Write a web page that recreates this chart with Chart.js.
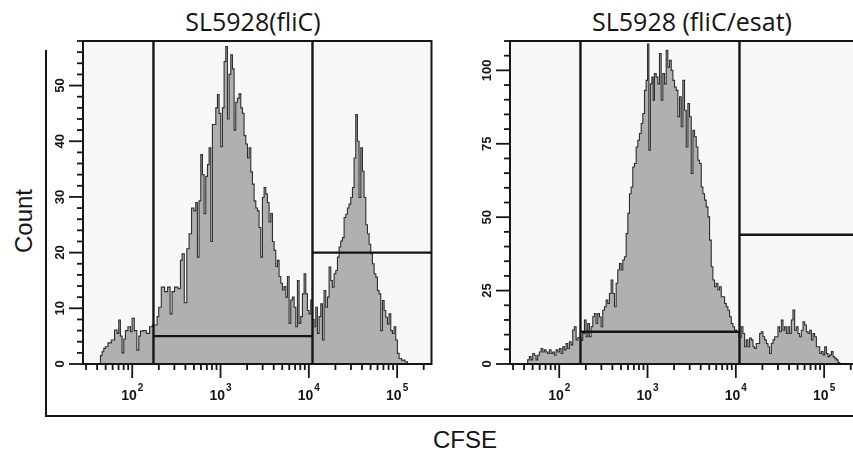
<!DOCTYPE html>
<html>
<head>
<meta charset="utf-8">
<script src="https://cdn.jsdelivr.net/npm/chart.js@4.4.0/dist/chart.umd.min.js"></script>
<style>
  html, body { margin: 0; padding: 0; background: #fff; overflow: hidden; }
  #pagina { position: relative; width: 853px; height: 452px; overflow: hidden; }
  .titulo { position: absolute; top: 9px; font: 25px "Open Sans", sans-serif; line-height: 25px; color: #151515; white-space: nowrap; transform: translateX(-50%); }
  .rotulo { position: absolute; font: 24px "Liberation Sans", Arial, sans-serif; line-height: 24px; color: #151515; white-space: nowrap; }
  #count { left: 24px; top: 221px; transform: translate(-50%, -50%) rotate(-90deg); }
  #cfse { left: 465px; top: 428px; transform: translateX(-50%); }
  .traco { position: absolute; background: #151515; }
  canvas { position: absolute; top: 30px; }
</style>
</head>
<body>
<div id="pagina">
  <div class="traco" style="left:45px; top:50px; width:2px; height:367px;"></div>
  <div class="traco" style="left:45px; top:415px; width:808px; height:2px;"></div>
  <div class="titulo" id="titulo-esq" style="left:253px;"></div>
  <div class="titulo" id="titulo-dir" style="left:692px;"></div>
  <div class="rotulo" id="count">Count</div>
  <div class="rotulo" id="cfse">CFSE</div>
  <canvas id="g-esq" width="400" height="380" style="left:40px;"></canvas>
  <canvas id="g-dir" width="400" height="380" style="left:467px;"></canvas>
</div>
<script>
var TITULOS = ["SL5928(fliC)", "SL5928 (fliC/esat)"];

// log10(CFSE) of each histogram bin, and the count in that bin
var ESQ_LOG = [
  1.631,1.649,1.668,1.687,1.706,1.744,1.781,1.819,1.838,1.857,
  1.875,1.895,1.914,1.932,1.971,1.989,2.008,2.039,2.065,2.084,
  2.102,2.140,2.178,2.215,2.240,2.272,2.291,2.310,2.348,2.385,
  2.416,2.442,2.461,2.498,2.537,2.555,2.574,2.605,2.631,2.657,
  2.687,2.710,2.729,2.747,2.767,2.786,2.804,2.823,2.843,2.861,
  2.880,2.899,2.917,2.937,2.956,2.974,2.993,3.012,3.031,3.050,
  3.069,3.087,3.106,3.126,3.144,3.163,3.182,3.200,3.220,3.239,
  3.257,3.276,3.296,3.314,3.333,3.352,3.370,3.390,3.409,3.427,
  3.446,3.465,3.484,3.503,3.522,3.540,3.559,3.579,3.597,3.616,
  3.635,3.653,3.673,3.692,3.710,3.729,3.749,3.767,3.786,3.805,
  3.823,3.843,3.862,3.880,3.899,3.918,3.937,3.956,3.975,3.993,
  4.012,4.032,4.050,4.069,4.088,4.106,4.126,4.145,4.163,4.182,
  4.202,4.220,4.239,4.258,4.276,4.296,4.315,4.333,4.352,4.371,
  4.390,4.409,4.428,4.446,4.465,4.485,4.503,4.522,4.541,4.559,
  4.579,4.598,4.616,4.635,4.655,4.673,4.692,4.711,4.729,4.749,
  4.768,4.786,4.805,4.824,4.843,4.862,4.881,4.899,4.918,4.938,
  4.956,4.975,4.994,5.012,5.032,5.069,5.108,5.126
];
var ESQ_CONTAGEM = [
  0,1.5,2.2,2.8,3.1,3.8,4.3,6.1,5.5,7.9,
  5,2,4.5,6,6.7,5.8,8.2,6,2.5,5,
  5.9,6,5.5,6.7,7,7,8.5,10.2,13.8,13,
  13.8,9,13,13.8,13.5,18.6,19.8,11,20.7,23.4,
  28,27.5,29,19.2,29.3,37.6,34,27,33.7,35.8,
  38.8,22,43,43,46,48.4,45,39,46,54.3,
  57,44,52,55.5,53,42,47,47.7,48.5,46,
  45,41,39.5,37,38.8,34.5,32.3,29.3,28,27.5,
  24.5,19.2,29.9,31.7,30.5,29,25.5,27,22,20.4,
  17.5,18.6,15.7,14.5,13.3,13.9,12,15.7,7.3,11.5,
  12,10.2,6.7,15,7.3,8.5,12.6,16.2,12.6,9.6,
  9,11.5,8,6.7,10.2,5.5,8.5,10.8,4.3,13.2,
  10.2,12,17.4,15,13.8,16.2,16.8,19.2,21,22.1,
  22.7,26.3,26.9,28,28.7,29.9,31.7,37,44.8,40,
  29.9,38.8,34.6,29.9,25,23.4,21.5,19.8,18,16.2,
  15.6,13.2,12.6,6,11.4,9.6,8.4,7.2,9,6,
  5.5,6.7,4.3,1.9,1,0.7,0.4,0
];
var DIR_LOG = [
  1.633,1.652,1.671,1.690,1.709,1.728,1.747,1.765,1.785,1.804,
  1.822,1.841,1.861,1.879,1.898,1.917,1.935,1.955,1.974,1.992,
  2.011,2.031,2.049,2.068,2.087,2.105,2.125,2.144,2.162,2.181,
  2.201,2.219,2.238,2.257,2.276,2.295,2.314,2.332,2.351,2.371,
  2.389,2.408,2.427,2.446,2.465,2.484,2.502,2.522,2.541,2.559,
  2.578,2.598,2.616,2.635,2.654,2.672,2.692,2.711,2.729,2.748,
  2.768,2.786,2.805,2.824,2.842,2.862,2.881,2.899,2.918,2.938,
  2.956,2.975,2.994,3.006,3.024,3.040,3.058,3.069,3.088,3.108,
  3.126,3.145,3.164,3.183,3.202,3.221,3.239,3.259,3.278,3.296,
  3.315,3.334,3.353,3.372,3.391,3.409,3.429,3.448,3.466,3.485,
  3.505,3.523,3.542,3.561,3.579,3.599,3.618,3.636,3.655,3.675,
  3.693,3.712,3.731,3.749,3.769,3.788,3.806,3.825,3.845,3.863,
  3.882,3.901,3.919,3.939,3.958,3.976,3.995,4.018,4.050,4.071,
  4.090,4.109,4.128,4.146,4.166,4.185,4.203,4.222,4.241,4.260,
  4.279,4.298,4.316,4.336,4.355,4.373,4.392,4.412,4.430,4.449,
  4.468,4.486,4.506,4.525,4.543,4.562,4.582,4.600,4.619,4.638,
  4.656,4.676,4.695,4.713,4.732,4.752,4.770,4.789,4.808,4.827,
  4.846,4.865,4.883,4.902,4.922,4.940,4.959,4.978,4.997,5.016,
  5.035,5.053,5.073,5.092,5.110,5.129,5.149,5.167,5.186
];
var DIR_CONTAGEM = [
  0,1.4,2.5,1.4,3.6,3,1.4,3,4.1,5.3,
  4.1,4.8,4.1,3.6,4.8,3.6,4.1,3,4.8,4.1,
  5.3,3.6,5.9,4.8,7,5.3,7.6,6.5,11.6,12.7,
  8.2,9,9,8,10.4,15,9.3,13.8,9.3,12.7,
  16.1,17.2,13.8,17.2,16,12.7,18.3,19.5,21.8,20.6,
  24,28.6,24,19.5,27.5,32,34.2,32,35.4,36.5,
  44.4,51.3,58,60.3,67.1,68.3,73.9,76.2,78.5,81.9,
  85.3,93.2,96.6,109,72.8,95.4,97.7,89.8,98.9,97.7,
  95.4,105.7,89.8,98.9,95.4,106.8,101.1,103.4,100,96.6,
  94.3,93.2,84.2,91,80.8,96.6,86.4,73.9,88.7,84.2,
  64.9,79.6,77.4,73.9,69.4,68.3,60.3,58,55.8,53.5,
  50.1,42.2,33.1,28.6,26.3,27.5,25.2,26.3,22.9,22.9,
  20.6,19.5,18.3,16.1,13.8,12.7,11.6,11,9,12.7,
  10.4,5.9,8.2,5.9,8.8,8.2,5.9,5.3,7,7,
  10.4,11,9.3,8.2,7,5.9,3.6,7,8.2,9.3,
  9.3,12.7,11,15,11.5,12.7,10.4,12.7,10.4,15,
  18.4,11.5,12.7,10.4,9.3,11.5,14.4,13.3,11,10.4,
  11.5,8.2,10.4,9.3,5.9,5.9,3.6,4.2,3.1,5.9,
  3.6,2.5,3.1,4.2,2.5,1.9,1.4,0.5,0
];

// gates: two vertical cuts, then the level of the lower/upper horizontal marks
var GATE_X = [174, 11000];
var ESQ_BARRAS = [5, 20];
var DIR_BARRAS = [11, 44];

var X_MIN = 27.7;
var X_MAX = 245000;
var X_DECADAS = [2, 3, 4, 5];
var X_MULTIPLOS = [1, 2, 3, 4, 5, 6, 7, 8, 9];

var ESQ_Y = { max: 58, passo: 2, rotulos: [0, 10, 20, 30, 40, 50] };
var DIR_Y = { max: 110, passo: 5, rotulos: [0, 25, 50, 75, 100] };

(function () {
  document.getElementById("titulo-esq").textContent = TITULOS[0];
  document.getElementById("titulo-dir").textContent = TITULOS[1];

  var ticksX = [];
  [1, 2, 3, 4, 5].forEach(function (d) {
    X_MULTIPLOS.forEach(function (m) {
      var v = m * Math.pow(10, d);
      if (v >= X_MIN && v <= X_MAX) { ticksX.push(v); }
    });
  });

  var TINTA = "#151515";

  var eixosPlugin = {
    id: "eixos",
    beforeDraw: function (chart) {
      var a = chart.chartArea, ctx = chart.ctx;
      ctx.save();
      ctx.fillStyle = "#f8f8f8";
      ctx.fillRect(a.left, a.top, a.right - a.left, a.bottom - a.top);
      ctx.restore();
    },
    afterDraw: function (chart, args, opts) {
      var a = chart.chartArea, ctx = chart.ctx;
      var xs = chart.scales.x, ys = chart.scales.y;
      ctx.save();
      ctx.strokeStyle = TINTA;
      ctx.fillStyle = TINTA;
      ctx.lineWidth = 2;
      ctx.strokeRect(a.left, a.top, a.right - a.left, a.bottom - a.top);

      // y ticks + rotated labels
      ctx.lineWidth = 1.8;
      ctx.font = "bold 13px 'Liberation Sans', Arial, sans-serif";
      ys.ticks.forEach(function (t) {
        var y = ys.getPixelForValue(t.value);
        var major = opts.rotulos.indexOf(t.value) >= 0;
        var len = major ? 14 : 6;
        ctx.beginPath();
        ctx.moveTo(a.left - len, y);
        ctx.lineTo(a.left, y);
        ctx.stroke();
        if (major) {
          ctx.save();
          ctx.translate(a.left - 23, y);
          ctx.rotate(-Math.PI / 2);
          ctx.textAlign = "center";
          ctx.textBaseline = "middle";
          ctx.fillText(String(t.value), 0, 0);
          ctx.restore();
        }
      });

      // x ticks (log) + 10^n labels
      xs.ticks.forEach(function (t) {
        var x = xs.getPixelForValue(t.value);
        var e = Math.log10(t.value);
        var major = Math.abs(e - Math.round(e)) < 1e-9;
        var len = major ? 14 : 6;
        ctx.beginPath();
        ctx.moveTo(x, a.bottom);
        ctx.lineTo(x, a.bottom + len);
        ctx.stroke();
        if (major && X_DECADAS.indexOf(Math.round(e)) >= 0) {
          var base = "10", exp = String(Math.round(e));
          ctx.font = "bold 14px 'Liberation Sans', Arial, sans-serif";
          var wb = ctx.measureText(base).width;
          ctx.font = "bold 10px 'Liberation Sans', Arial, sans-serif";
          var we = ctx.measureText(exp).width;
          var x0 = x - (wb + we + 1) / 2;
          ctx.textAlign = "left";
          ctx.textBaseline = "alphabetic";
          ctx.font = "bold 14px 'Liberation Sans', Arial, sans-serif";
          ctx.fillText(base, x0, a.bottom + 36);
          ctx.font = "bold 10px 'Liberation Sans', Arial, sans-serif";
          ctx.fillText(exp, x0 + wb + 1, a.bottom + 27);
        }
      });
      ctx.restore();
    }
  };

  function criarHistograma(canvas, logs, contagem, eixoY, barras) {
    var pontos = logs.map(function (e, i) { return { x: Math.pow(10, e), y: contagem[i] }; });
    var segmentos = [
      [{ x: GATE_X[0], y: 0 }, { x: GATE_X[0], y: eixoY.max }],
      [{ x: GATE_X[1], y: 0 }, { x: GATE_X[1], y: eixoY.max }],
      [{ x: GATE_X[0], y: barras[0] }, { x: GATE_X[1], y: barras[0] }],
      [{ x: GATE_X[1], y: barras[1] }, { x: X_MAX, y: barras[1] }]
    ];
    var datasets = [{
      data: pontos,
      stepped: "middle",
      fill: "origin",
      backgroundColor: "#b0b0b0",
      borderColor: "#2e2e2e",
      borderWidth: 1.1,
      pointRadius: 0,
      order: 2
    }];
    segmentos.forEach(function (s) {
      datasets.push({
        data: s,
        borderColor: TINTA,
        borderWidth: 2.4,
        pointRadius: 0,
        fill: false,
        order: 1
      });
    });

    return new Chart(canvas, {
      type: "line",
      data: { datasets: datasets },
      plugins: [eixosPlugin],
      options: {
        responsive: false,
        animation: false,
        devicePixelRatio: 1,
        events: [],
        layout: { padding: { top: 11, right: 8.5, left: 0, bottom: 0 } },
        plugins: {
          legend: { display: false },
          tooltip: { enabled: false },
          eixos: { rotulos: eixoY.rotulos }
        },
        scales: {
          x: {
            type: "logarithmic",
            min: X_MIN,
            max: X_MAX,
            grid: { display: false },
            border: { display: false },
            ticks: { display: false },
            afterBuildTicks: function (s) { s.ticks = ticksX.map(function (v) { return { value: v }; }); },
            afterFit: function (s) { s.height = 46; }
          },
          y: {
            min: 0,
            max: eixoY.max,
            grid: { display: false },
            border: { display: false },
            ticks: { display: false, stepSize: eixoY.passo },
            afterFit: function (s) { s.width = 43; }
          }
        }
      }
    });
  }

  criarHistograma(document.getElementById("g-esq"), ESQ_LOG, ESQ_CONTAGEM, ESQ_Y, ESQ_BARRAS);
  criarHistograma(document.getElementById("g-dir"), DIR_LOG, DIR_CONTAGEM, DIR_Y, DIR_BARRAS);
})();
</script>
</body>
</html>
